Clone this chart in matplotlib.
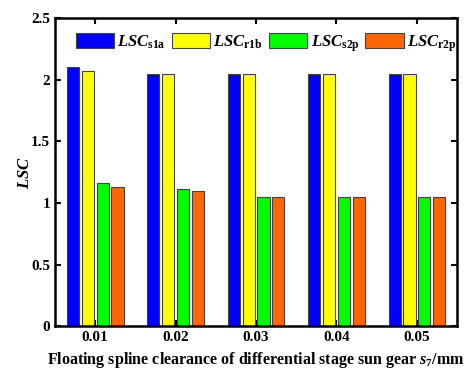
import numpy as np
import matplotlib
matplotlib.use("Agg")
import matplotlib.pyplot as plt

plt.rcParams['font.family'] = 'Liberation Serif'
plt.rcParams['font.weight'] = 'bold'
plt.rcParams['mathtext.fontset'] = 'custom'
plt.rcParams['mathtext.rm'] = 'Liberation Serif:bold'
plt.rcParams['mathtext.it'] = 'Liberation Serif:bold:italic'
plt.rcParams['mathtext.bf'] = 'Liberation Serif:bold'

# clearance values
categories = ['0.01', '0.02', '0.03', '0.04', '0.05']
lsc_s1a = [2.10, 2.05, 2.05, 2.05, 2.05]
lsc_r1b = [2.07, 2.05, 2.05, 2.05, 2.05]
lsc_s2p = [1.16, 1.11, 1.05, 1.05, 1.05]
lsc_r2p = [1.13, 1.10, 1.05, 1.05, 1.05]

series = [lsc_s1a, lsc_r1b, lsc_s2p, lsc_r2p]
labels = [r'$\mathit{LSC}_{\mathrm{s1a}}$', r'$\mathit{LSC}_{\mathrm{r1b}}$',
          r'$\mathit{LSC}_{\mathrm{s2p}}$', r'$\mathit{LSC}_{\mathrm{r2p}}$']
colors = ['#0000ff', '#ffff00', '#00ff00', '#ff6600']

fig = plt.figure(figsize=(4.66, 3.71), dpi=100)
ax = fig.add_axes([0.118, 0.121, 0.863, 0.830])

x = np.arange(len(categories))
step = 0.185
width = 0.15
for i, (vals, lab, c) in enumerate(zip(series, labels, colors)):
    ax.bar(x + (i - 1.5) * step, vals, width, color=c, edgecolor='#444444',
           linewidth=0.8, label=lab, zorder=2)

ax.set_xlim(-0.5, len(categories) - 0.5)
ax.set_ylim(0, 2.5)
ax.set_xticks(x)
ax.set_xticklabels(categories)
ax.set_yticks([0, 0.5, 1, 1.5, 2, 2.5])
ax.set_yticklabels(['0', '0.5', '1', '1.5', '2', '2.5'])
ax.tick_params(direction='in', top=True, right=True, labelsize=11, width=1.5, length=4)
for s in ax.spines.values():
    s.set_linewidth(1.8)

ax.set_ylabel(r'$\mathit{LSC}$', fontsize=12)
ax.yaxis.set_label_coords(-0.055, 0.5)
ax.set_xlabel(r'Floating spline clearance of differential stage sun gear $\mathit{s}_{\mathrm{7}}$/mm',
              fontsize=11.5, fontweight='bold')

ax.legend(loc='center', bbox_to_anchor=(0.525, 0.918), ncol=4, frameon=False,
          fontsize=12, handlelength=2.3, handleheight=1.05, handletextpad=0.2,
          columnspacing=0.35, borderaxespad=0.0, borderpad=0.0)

fig.savefig('out.png', dpi=100)
